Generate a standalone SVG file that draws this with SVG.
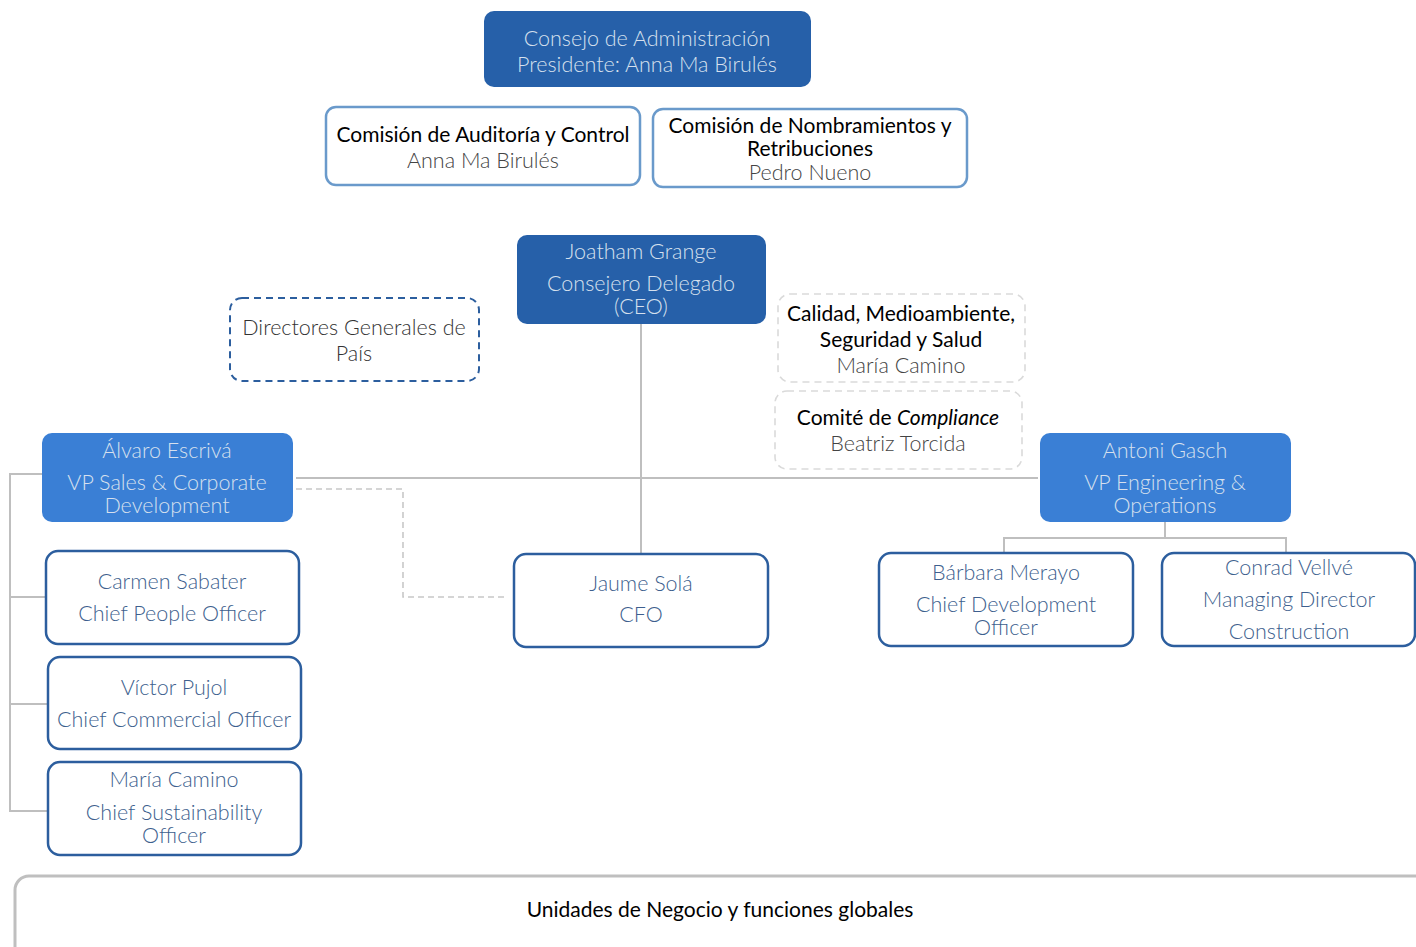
<svg xmlns="http://www.w3.org/2000/svg" width="1416" height="947" viewBox="0 0 1416 947">
<style>
text{font-family:Lato,"Open Sans","Liberation Sans",sans-serif;font-size:21.5px;text-anchor:middle;}
.lt{font-weight:300;}
.dk{fill:#2660A9;}
.md{fill:#3A7FD5;}
.tw{fill:#D6E0EE;}
.wb{fill:#fff;stroke:#2C5E9E;stroke-width:2.5;}
.cb{fill:#fff;stroke:#6A9ACB;stroke-width:2.5;}
.tb{fill:#3E5F8E;}
.hd{fill:#000;font-weight:400;font-size:21px;}
.gr{fill:#444;}
.ln{fill:none;stroke:#BFBFBF;stroke-width:2;}
.dl{fill:none;stroke:#C8C8C8;stroke-width:1.6;stroke-dasharray:6,4;}
</style>
<g id="connectors">
<line class="ln" x1="641" y1="324" x2="641" y2="554"/>
<line class="ln" x1="296" y1="478" x2="1038" y2="478"/>
<polyline class="dl" points="296,489 403,489 403,597 508,597"/>
<polyline class="ln" points="42,474 10,474 10,811 47,811"/>
<line class="ln" x1="10" y1="597" x2="46" y2="597"/>
<line class="ln" x1="10" y1="704" x2="47" y2="704"/>
<line class="ln" x1="1165" y1="522" x2="1165" y2="538"/>
<polyline class="ln" points="1004,553 1004,538 1286,538 1286,553"/>
</g>
<g id="consejo">
<rect class="dk" x="484" y="11" width="327" height="76" rx="10"/>
<text class="lt tw" x="647" y="46">Consejo de Administración</text>
<text class="lt tw" x="647" y="72">Presidente: Anna Ma Birulés</text>
</g>
<g id="auditoria">
<rect class="cb" x="326" y="107" width="314" height="78" rx="10"/>
<text class="hd" x="483" y="142">Comisión de Auditoría y Control</text>
<text class="lt gr" x="483" y="168">Anna Ma Birulés</text>
</g>
<g id="nombramientos">
<rect class="cb" x="653" y="109" width="314" height="78" rx="10"/>
<text class="hd" x="810" y="133">Comisión de Nombramientos y</text>
<text class="hd" x="810" y="156">Retribuciones</text>
<text class="lt gr" x="810" y="180">Pedro Nueno</text>
</g>
<g id="ceo">
<rect class="dk" x="517" y="235" width="249" height="89" rx="10"/>
<text class="lt tw" x="641" y="259">Joatham Grange</text>
<text class="lt tw" x="641" y="291">Consejero Delegado</text>
<text class="lt tw" x="641" y="314">(CEO)</text>
</g>
<g id="directores">
<rect x="230" y="298" width="249" height="83" rx="12" fill="#fff" stroke="#2C5E9E" stroke-width="2" stroke-dasharray="7,5"/>
<text class="lt" fill="#333" x="354" y="335">Directores Generales de</text>
<text class="lt" fill="#333" x="354" y="361">País</text>
</g>
<g id="calidad">
<rect x="778" y="294" width="247" height="88" rx="12" fill="#fff" stroke="#DADADA" stroke-width="1.6" stroke-dasharray="7,5"/>
<text class="hd" x="901" y="321">Calidad, Medioambiente,</text>
<text class="hd" x="901" y="347">Seguridad y Salud</text>
<text class="lt gr" x="901" y="373">María Camino</text>
</g>
<g id="compliance">
<rect x="775" y="391" width="247" height="78" rx="12" fill="#fff" stroke="#DADADA" stroke-width="1.6" stroke-dasharray="7,5"/>
<text class="hd" x="898" y="425">Comité de <tspan font-style="italic">Compliance</tspan></text>
<text class="lt gr" x="898" y="451">Beatriz Torcida</text>
</g>
<g id="alvaro">
<rect class="md" x="42" y="433" width="251" height="89" rx="10"/>
<text class="lt tw" x="167" y="458">Álvaro Escrivá</text>
<text class="lt tw" x="167" y="490">VP Sales &amp; Corporate</text>
<text class="lt tw" x="167" y="513">Development</text>
</g>
<g id="antoni">
<rect class="md" x="1040" y="433" width="251" height="89" rx="10"/>
<text class="lt tw" x="1165" y="458">Antoni Gasch</text>
<text class="lt tw" x="1165" y="490">VP Engineering &amp;</text>
<text class="lt tw" x="1165" y="513">Operations</text>
</g>
<g id="carmen">
<rect class="wb" x="46" y="551" width="253" height="93" rx="12"/>
<text class="lt tb" x="172" y="589">Carmen Sabater</text>
<text class="lt tb" x="172" y="621">Chief People Officer</text>
</g>
<g id="victor">
<rect class="wb" x="48" y="657" width="253" height="92" rx="12"/>
<text class="lt tb" x="174" y="695">Víctor Pujol</text>
<text class="lt tb" x="174" y="727">Chief Commercial Officer</text>
</g>
<g id="maria">
<rect class="wb" x="48" y="762" width="253" height="93" rx="12"/>
<text class="lt tb" x="174" y="787">María Camino</text>
<text class="lt tb" x="174" y="820">Chief Sustainability</text>
<text class="lt tb" x="174" y="843">Officer</text>
</g>
<g id="jaume">
<rect class="wb" x="514" y="554" width="254" height="93" rx="12"/>
<text class="lt tb" x="641" y="591">Jaume Solá</text>
<text class="lt tb" x="641" y="622">CFO</text>
</g>
<g id="barbara">
<rect class="wb" x="879" y="553" width="254" height="93" rx="12"/>
<text class="lt tb" x="1006" y="580">Bárbara Merayo</text>
<text class="lt tb" x="1006" y="612">Chief Development</text>
<text class="lt tb" x="1006" y="635">Officer</text>
</g>
<g id="conrad">
<rect class="wb" x="1162" y="553" width="253" height="93" rx="12"/>
<text class="lt tb" x="1289" y="575">Conrad Vellvé</text>
<text class="lt tb" x="1289" y="607">Managing Director</text>
<text class="lt tb" x="1289" y="639">Construction</text>
</g>
<g id="unidades">
<rect x="15" y="876" width="1430" height="90" rx="14" fill="#fff" stroke="#BFBFBF" stroke-width="3"/>
<text class="hd" x="720" y="917">Unidades de Negocio y funciones globales</text>
</g>
</svg>
